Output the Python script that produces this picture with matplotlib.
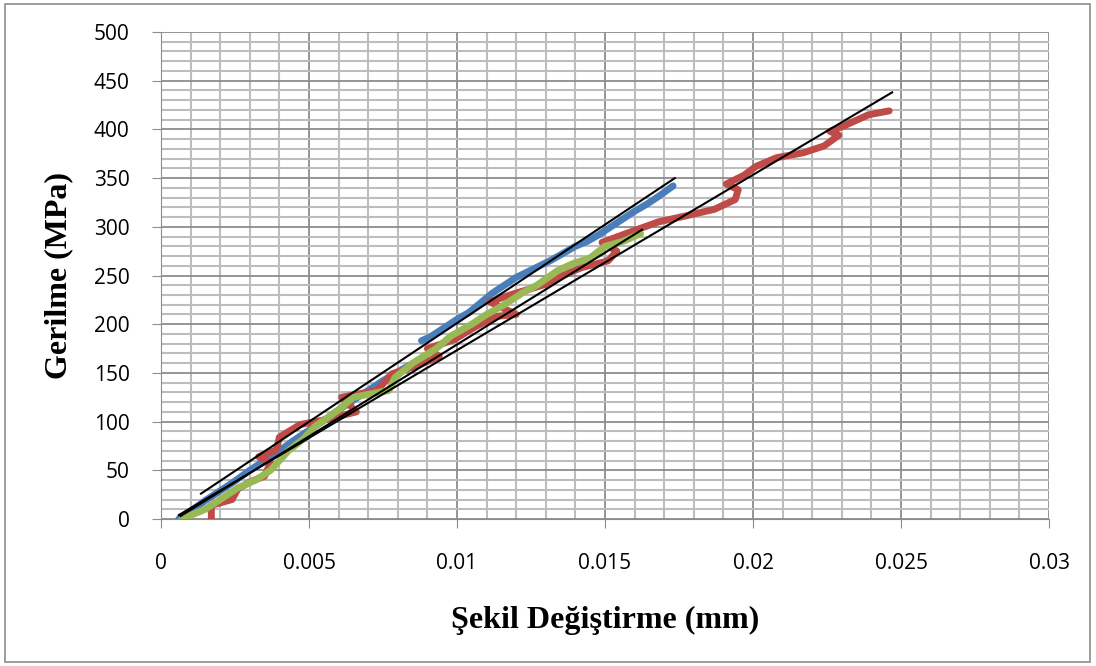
import numpy as np
import matplotlib.pyplot as plt
from matplotlib.patches import Rectangle

# Numune verileri (okunan değerler)
blue_x = [0.0006, 0.0010, 0.0015, 0.0020, 0.0025, 0.0030, 0.0035, 0.0040, 0.0045, 0.0050,
          0.0055, 0.0060, 0.0065, 0.0070, 0.0075, 0.0080, 0.0084, np.nan,
          0.0088, 0.0091, 0.0095, 0.0100, 0.0104, 0.0108, 0.0112, 0.0116, 0.0120, 0.0124,
          0.0128, 0.0132, 0.0136, 0.0140, 0.0144, 0.0148, 0.0152, 0.0156, 0.0160, 0.0164,
          0.0168, 0.0173]
blue_y = [0, 8, 19, 29, 39, 50, 60, 70, 81, 91,
          101, 112, 122, 132, 142, 151, 158, np.nan,
          183, 187, 195, 205, 212, 222, 232, 240, 248, 254,
          260, 266, 273, 280, 285, 292, 300, 308, 316, 323,
          331, 342]

red_x = [0.0017, 0.0017, 0.0024, 0.0026, 0.0030, 0.0035, 0.0037, 0.0033, 0.0039, 0.0040,
         0.0047, 0.0054, 0.0066, 0.0061, 0.0073, 0.0078, 0.0087, 0.0094, 0.0090, 0.0099,
         0.0106, 0.0113, 0.0120, 0.0111, 0.0120, 0.0130, 0.0135, 0.0142, 0.0151, 0.0154,
         0.0149, 0.0158, 0.0168, 0.0177, 0.0187, 0.0194, 0.0195, 0.0191, 0.0197, 0.0201,
         0.0208, 0.0217, 0.0224, 0.0229, 0.0226, 0.0231, 0.0239, 0.0246]
red_y = [0, 14, 20, 31, 38, 44, 58, 64, 71, 84,
         97, 101, 110, 125, 132, 149, 158, 167, 175, 184,
         197, 208, 210, 223, 232, 241, 249, 258, 265, 275,
         284, 294, 305, 311, 318, 328, 338, 344, 353, 362,
         371, 376, 383, 394, 398, 404, 415, 419]

green_x = [0.0007, 0.0015, 0.0021, 0.0026, 0.0032, 0.0037, 0.0043, 0.0048, 0.0052, 0.0060,
           0.0065, 0.0077, 0.0079, 0.0085, 0.0093, 0.0098, 0.0105, 0.0110, 0.0116, 0.0122,
           0.0127, 0.0134, 0.0139, 0.0145, 0.0150, 0.0156, 0.0162]
green_y = [0, 10, 22, 32, 40, 50, 70, 82, 95, 112,
           125, 132, 145, 160, 175, 188, 200, 210, 220, 232,
           240, 255, 262, 268, 280, 285, 293]

# Doğrusal eğilim çizgileri (uç noktalar)
trend_blue_x = [0.00135, 0.01736]
trend_blue_y = [26, 350]
trend_red_x = [0.0006, 0.0247]
trend_red_y = [4, 438]
trend_green_x = [0.00066, 0.01625]
trend_green_y = [3, 297]

fig = plt.figure(figsize=(10.96, 6.66), dpi=100)
ax = fig.add_axes([161/1096, 1 - 519/666, (1049-161)/1096, (519-32)/666])

ax.plot(blue_x, blue_y, color='#4A7EBB', lw=5, solid_capstyle='round', solid_joinstyle='round', zorder=3)
ax.plot(red_x, red_y, color='#BE4B48', lw=5, solid_capstyle='round', solid_joinstyle='round', zorder=3)
ax.plot(green_x, green_y, color='#98B954', lw=5, solid_capstyle='round', solid_joinstyle='round', zorder=3)

ax.plot(trend_blue_x, trend_blue_y, color='black', lw=1.5, zorder=4)
ax.plot(trend_red_x, trend_red_y, color='black', lw=1.5, zorder=4)
ax.plot(trend_green_x, trend_green_y, color='black', lw=1.5, zorder=4)

ax.set_xlim(0, 0.03)
ax.set_ylim(0, 500)
ax.set_xticks([0, 0.005, 0.01, 0.015, 0.02, 0.025, 0.03])
ax.set_xticklabels(['0', '0.005', '0.01', '0.015', '0.02', '0.025', '0.03'])
ax.set_yticks(range(0, 501, 50))
ax.set_xticks(np.arange(0, 0.0301, 0.001), minor=True)
ax.set_yticks(range(0, 501, 10), minor=True)

ax.grid(which='major', color='#8C8C8C', lw=1.3, zorder=0)
ax.grid(which='minor', color='#BDBDBD', lw=1.5, zorder=0)
ax.set_axisbelow(True)

for s in ax.spines.values():
    s.set_visible(False)
ax.spines['left'].set_visible(True)
ax.spines['bottom'].set_visible(True)
ax.spines['left'].set_color('#8C8C8C')
ax.spines['bottom'].set_color('#8C8C8C')

ax.tick_params(which='major', direction='out', length=6.5, color='#8C8C8C', labelsize=15)
ax.tick_params(which='minor', length=0)
ax.tick_params(axis='x', pad=18)
ax.tick_params(axis='y', pad=16)
for lab in ax.get_xticklabels() + ax.get_yticklabels():
    lab.set_fontfamily('Open Sans')

ax.set_xlabel('Şekil Değiştirme (mm)', fontfamily='Liberation Serif', fontweight='bold', fontsize=23, labelpad=23)
ax.set_ylabel('Gerilme (MPa)', fontfamily='Liberation Serif', fontweight='bold', fontsize=23, labelpad=15)

# Grafik alanı çerçevesi
fig.patches.append(Rectangle((5/1096, 4/666), 1085/1096, 658/666, transform=fig.transFigure,
                             fill=False, edgecolor='#8C8C8C', lw=1.2))

fig.savefig('out.png', dpi=100)
